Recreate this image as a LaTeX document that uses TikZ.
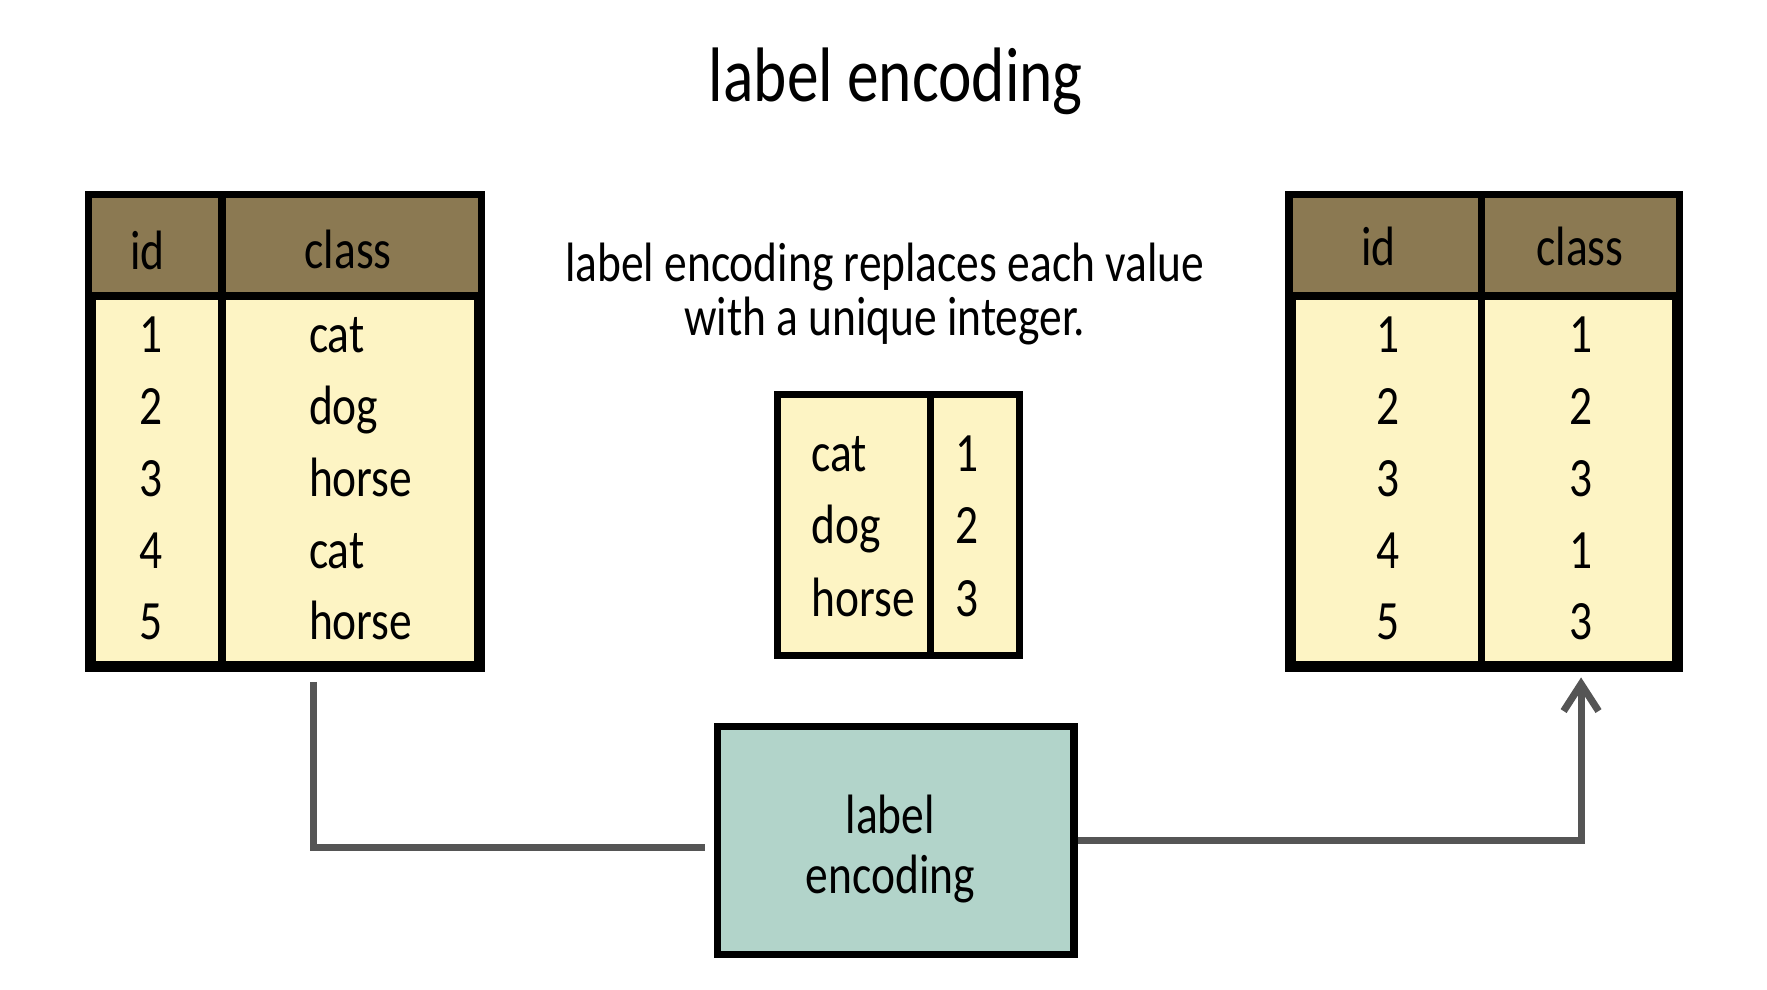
\documentclass[tikz,border=0pt]{standalone}
\usepackage{fontspec}
\setmainfont[FakeStretch=0.82]{Carlito}
\usetikzlibrary{arrows.meta,calc,positioning}

\definecolor{headbrown}{HTML}{8B7952}
\definecolor{cellyellow}{HTML}{FDF4C4}
\definecolor{encteal}{HTML}{B2D4CA}
\definecolor{wiregray}{HTML}{555555}

\begin{document}
\begin{tikzpicture}[
  tablebox/.style={draw=black, line width=1.8pt, fill=cellyellow, inner sep=0pt},
  encbox/.style={draw=black, line width=1.8pt, fill=encteal, inner sep=0pt},
  cell/.style={font=\fontsize{14}{16}\selectfont, inner sep=1pt},
  wire/.style={draw=wiregray, line width=1.8pt},
]
  \useasboundingbox (0,0) rectangle (15.68,8.78);

  % Define table dimensions
  \def\tabtop{7.02}
  \def\tabbot{2.88}
  \def\headbot{6.15}
  \def\rowbase{5.65}
  \def\rowstep{0.637}
  \def\rule{1.8pt}

  % Title
  \node[font=\fontsize{19.5}{22}\selectfont, anchor=base, inner sep=0pt] (title) at (7.95,7.88) {label encoding};

  % Left table: id / class
  \node[tablebox, minimum width=3.42cm, minimum height=4.14cm] (lefttab) at (2.53,4.95) {};
  \fill[headbrown] (0.82,\tabtop) rectangle (4.24,\headbot);
  \draw[line width=2pt] (0.82,\headbot) -- (4.24,\headbot);
  \draw[line width=\rule] (1.97,\tabtop) -- (1.97,\tabbot);
  \draw[line width=\rule] (lefttab.north west) rectangle (lefttab.south east);
  \node[cell, anchor=base] (lidhead) at (1.31,6.39) {id};
  \node[cell, anchor=base] (lclshead) at (3.09,6.40) {class};
  \foreach \i/\c in {1/cat,2/dog,3/horse,4/cat,5/horse} {
    \node[cell, anchor=base] (lid\i) at (1.34, {\rowbase-(\i-1)*\rowstep}) {\i};
    \node[cell, anchor=base west] (lcls\i) at (2.70, {\rowbase-(\i-1)*\rowstep}) {\c};
  }

  % Right table: id / encoded class
  \node[tablebox, minimum width=3.40cm, minimum height=4.14cm] (righttab) at (13.17,4.95) {};
  \fill[headbrown] (11.47,\tabtop) rectangle (14.87,\headbot);
  \draw[line width=2pt] (11.47,\headbot) -- (14.87,\headbot);
  \draw[line width=\rule] (13.15,\tabtop) -- (13.15,\tabbot);
  \draw[line width=\rule] (righttab.north west) rectangle (righttab.south east);
  \node[cell, anchor=base] (ridhead) at (12.23,6.42) {id};
  \node[cell, anchor=base] (rclshead) at (14.02,6.42) {class};
  \foreach \i/\c in {1/1,2/2,3/3,4/1,5/3} {
    \node[cell, anchor=base] (rid\i) at (12.32, {\rowbase-(\i-1)*\rowstep}) {\i};
    \node[cell, anchor=base] (rcls\i) at (14.03, {\rowbase-(\i-1)*\rowstep}) {\c};
  }

  % Explanation
  \node[cell, anchor=base] (sent1) at (7.85,6.28) {label encoding replaces each value};
  \node[cell, anchor=base] (sent2) at (7.85,5.80) {with a unique integer.};

  % Lookup table in the middle
  \node[tablebox, minimum width=2.15cm, minimum height=2.32cm] (midtab) at (7.975,4.12) {};
  \draw[line width=\rule] (8.26,5.28) -- (8.26,2.96);
  \foreach \i/\c in {1/cat,2/dog,3/horse} {
    \node[cell, anchor=base west] (mword\i) at (7.16, {4.60-(\i-1)*0.645}) {\c};
    \node[cell, anchor=base] (mnum\i) at (8.58, {4.60-(\i-1)*0.645}) {\i};
  }

  % Encoder box
  \node[encbox, minimum width=3.16cm, minimum height=2.02cm] (enc) at (7.95,1.32) {};
  \node[cell, anchor=base] (enclabel) at (7.90,1.38) {label};
  \node[cell, anchor=base] (encname) at (7.90,0.85) {encoding};

  % Connectors
  \draw[wire, shorten <=0.12cm, shorten >=0.08cm] ([xshift=0.25cm]lefttab.south) |- ([yshift=-0.06cm]enc.west);
  \draw[wire, -{Straight Barb[length=2.4mm,width=3.1mm]}] (enc.east) -| ([yshift=-0.08cm]righttab.south -| rcls5);

\end{tikzpicture}
\end{document}
